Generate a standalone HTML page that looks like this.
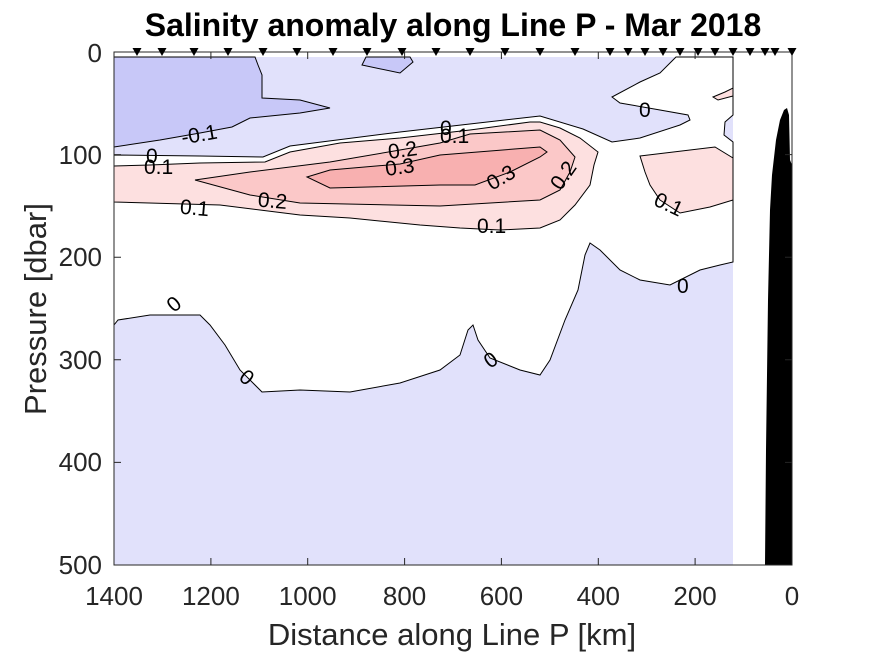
<!DOCTYPE html>
<html><head><meta charset="utf-8"><style>
body{margin:0;background:#fff;}
svg{display:block;font-family:"Liberation Sans",sans-serif;}
.t{font-size:26px;fill:#262626;}
.c{font-size:21px;fill:#000;}
</style></head><body>
<svg width="875" height="656" viewBox="0 0 875 656">
<defs><clipPath id="cp"><rect x="114" y="52" width="678" height="513"/></clipPath></defs>
<g clip-path="url(#cp)">
<rect x="114" y="57" width="619" height="508" fill="#e1e1fb"/>
<path d="M114,155 L200,156 L263,157 L290,146 L400,132 L540,116 L583,129 L612,142 L640,138 L680,125 L690,120 L688,115 L660,110 L620,103 L612,97 L640,82 L660,73 L673,60 L676,57 L733,57 L733,115 L725,122 L724,135 L733,142 L733,262 L720,265 L700,270 L670,285 L640,280 L620,270 L600,250 L590,243 L585,255 L578,290 L565,320 L550,360 L540,375 L520,370 L490,358 L478,340 L473,325 L468,330 L460,355 L440,370 L400,383 L350,392 L300,390 L262,392 L240,370 L225,345 L210,325 L200,315 L150,315 L118,320 L114,325 Z" fill="#fff" stroke="#000" stroke-width="1"/>
<path d="M114,57 L255,57 L258,65 L262,75 L262,98 L300,100 L330,108 L300,113 L250,118 L232,127 L200,133 L160,140 L114,147 Z" fill="#c8c8f8" stroke="#000" stroke-width="1"/>
<path d="M362,65 L400,73 L413,62 L410,57 L366,57 Z" fill="#c8c8f8" stroke="#000" stroke-width="1"/>
<path d="M114,166 L150,165 L200,163 L265,162 L290,152 L340,143 L400,138 L470,130 L530,122 L540,122 L560,128 L580,138 L598,152 L594,165 L590,185 L575,205 L560,220 L540,228 L500,230 L460,228 L420,225 L350,218 L300,215 L220,205 L114,202 Z" fill="#fde0e0" stroke="#000" stroke-width="1"/>
<path d="M640,156 L715,147 L733,158 L733,200 L710,207 L680,213 L660,200 L650,185 L645,172 Z" fill="#fde0e0" stroke="#000" stroke-width="1"/>
<path d="M713,97 L725,92 L733,88 L733,96 L718,100 Z" fill="#fde0e0" stroke="#000" stroke-width="1"/>
<path d="M195,180 L250,172 L330,162 L400,150 L440,143 L470,134 L540,130 L560,140 L575,157 L570,172 L560,190 L540,200 L440,206 L300,203 L250,195 Z" fill="#fbc8c8" stroke="#000" stroke-width="1"/>
<path d="M307,177 L330,170 L400,164 L440,155 L540,147 L547,152 L540,157 L510,172 L475,185 L440,185 L330,188 Z" fill="#f8b0b0" stroke="#000" stroke-width="1"/>
<path d="M765,565 L766,450 L768,300 L770,210 L772,175 L776,140 L780,120 L784,110 L787,108 L789,115 L790,160 L792,165 L792,565 Z" fill="#000"/>
</g>
<g class="c">
<text x="182" y="142" transform="rotate(-10 197 140)">-0.1</text>
<text x="146" y="163">0</text>
<text x="144" y="174">0.1</text>
<text x="180" y="215" transform="rotate(5 195 208)">0.1</text>
<text x="258" y="208" transform="rotate(5 275 200)">0.2</text>
<text x="388" y="157" transform="rotate(-8 403 150)">0.2</text>
<text x="385" y="174" transform="rotate(-8 400 166)">0.3</text>
<text x="440" y="135">0</text>
<text x="440" y="143">0.1</text>
<text x="486" y="185" transform="rotate(-30 500 177)">0.3</text>
<text x="547" y="185" transform="rotate(-55 560 175)">0.2</text>
<text x="477" y="233">0.1</text>
<text x="639" y="117">0</text>
<text x="654" y="212" transform="rotate(25 670 205)">0.1</text>
<text x="677" y="293">0</text>
<text x="167" y="310" transform="rotate(-40 175 302)">0</text>
<text x="241" y="386" transform="rotate(40 249 378)">0</text>
<text x="484" y="366" transform="rotate(-35 492 358)">0</text>
</g>
<rect x="114" y="52" width="678" height="513" fill="none" stroke="#262626" stroke-width="1"/>
<g stroke="#262626" stroke-width="1">
<path d="M210.9,565v-7M307.7,565v-7M404.6,565v-7M501.4,565v-7M598.3,565v-7M695.1,565v-7
M210.9,52v7M307.7,52v7M404.6,52v7M501.4,52v7M598.3,52v7M695.1,52v7
M114,154.6h7M114,257.2h7M114,359.8h7M114,462.4h7
M792,154.6h-7M792,257.2h-7M792,359.8h-7M792,462.4h-7"/>
</g>
<g fill="#000">
<path d="M132.5,48h9l-4.5,8zM157.5,48h9l-4.5,8zM189.5,48h9l-4.5,8zM223.5,48h9l-4.5,8zM258.5,48h9l-4.5,8zM292.5,48h9l-4.5,8zM328.5,48h9l-4.5,8zM362.5,48h9l-4.5,8zM397.5,48h9l-4.5,8zM431.5,48h9l-4.5,8zM465.5,48h9l-4.5,8zM500.5,48h9l-4.5,8zM535.5,48h9l-4.5,8zM570.5,48h9l-4.5,8zM605.5,48h9l-4.5,8zM623.5,48h9l-4.5,8zM640.5,48h9l-4.5,8zM658.5,48h9l-4.5,8zM675.5,48h9l-4.5,8zM693.5,48h9l-4.5,8zM710.5,48h9l-4.5,8zM728.5,48h9l-4.5,8zM745.5,48h9l-4.5,8zM760.5,48h9l-4.5,8zM770.5,48h9l-4.5,8zM787.5,48h9l-4.5,8z"/>
</g>
<g class="t" text-anchor="middle">
<text x="114" y="605">1400</text><text x="210.9" y="605">1200</text><text x="307.7" y="605">1000</text>
<text x="404.6" y="605">800</text><text x="501.4" y="605">600</text><text x="598.3" y="605">400</text>
<text x="695.1" y="605">200</text><text x="792" y="605">0</text>
</g>
<g class="t" text-anchor="end">
<text x="102" y="62">0</text><text x="102" y="164">100</text><text x="102" y="266">200</text>
<text x="102" y="369">300</text><text x="102" y="471">400</text><text x="102" y="574">500</text>
</g>
<text x="452" y="645" text-anchor="middle" style="font-size:31px;fill:#262626">Distance along Line P [km]</text>
<text transform="translate(46,309) rotate(-90)" text-anchor="middle" style="font-size:31px;fill:#262626">Pressure [dbar]</text>
<text x="453" y="36" text-anchor="middle" style="font-size:32px;font-weight:bold;fill:#000">Salinity anomaly along Line P - Mar 2018</text>
</svg>
</body></html>
